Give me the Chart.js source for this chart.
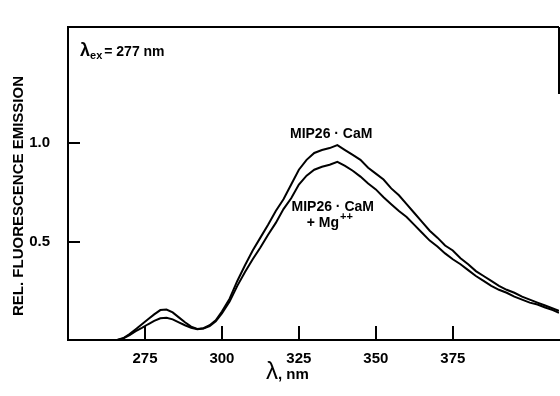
<!DOCTYPE html>
<html>
<head>
<meta charset="utf-8">
<script src="https://cdn.jsdelivr.net/npm/chart.js@4.4.1/dist/chart.umd.min.js"></script>
<style>
  html, body { margin: 0; padding: 0; background: #fff; }
  #wrap { width: 560px; height: 396px; }
</style>
</head>
<body>
<div id="wrap"><canvas id="spectrum"></canvas></div>
<script>
// emission wavelengths (nm)
const wavelengths = [266, 268, 270, 272, 274, 276, 278, 280, 282, 284, 286, 288, 290, 292, 294, 296, 298, 300,
    302.5, 305, 307.5, 310, 312.5, 315, 317.5, 320, 322.5, 325, 327.5, 330, 332.5, 335, 337.5, 340,
    342.5, 345, 347.5, 350, 352.5, 355, 357.5, 360, 362.5, 365, 367.5, 370, 372.5, 375, 377.5, 380,
    382.5, 385, 387.5, 390, 392.5, 395, 397.5, 400, 402.5, 405, 407.5, 409.5];

// MIP26 . CaM
const cam = [0, 0.01, 0.03, 0.055, 0.08, 0.105, 0.13, 0.152, 0.155, 0.14, 0.115, 0.09, 0.068, 0.056, 0.06, 0.075, 0.10, 0.145,
    0.21, 0.30, 0.38, 0.455, 0.52, 0.585, 0.655, 0.715, 0.79, 0.865, 0.915, 0.95, 0.965, 0.975, 0.99, 0.965,
    0.94, 0.915, 0.875, 0.845, 0.815, 0.77, 0.735, 0.69, 0.645, 0.60, 0.555, 0.52, 0.48, 0.455, 0.415, 0.385,
    0.35, 0.325, 0.30, 0.275, 0.255, 0.24, 0.22, 0.205, 0.19, 0.175, 0.16, 0.148];

// MIP26 . CaM + Mg++
const camMg = [0, 0.008, 0.025, 0.045, 0.062, 0.08, 0.097, 0.11, 0.113, 0.105, 0.09, 0.075, 0.062, 0.055, 0.058, 0.07, 0.095, 0.135,
    0.195, 0.275, 0.345, 0.41, 0.47, 0.535, 0.595, 0.665, 0.72, 0.79, 0.835, 0.865, 0.88, 0.89, 0.905, 0.885,
    0.86, 0.83, 0.795, 0.765, 0.725, 0.69, 0.655, 0.625, 0.585, 0.545, 0.505, 0.475, 0.44, 0.41, 0.385, 0.355,
    0.325, 0.30, 0.275, 0.255, 0.24, 0.22, 0.205, 0.19, 0.18, 0.165, 0.152, 0.138];

const xTicks = [275, 300, 325, 350, 375];
const yTicks = [0.5, 1.0];
const yTickLabels = ['0.5', '1.0'];

const FONT = "'Liberation Sans', Arial, sans-serif";

function toPoints(ys) {
    return wavelengths.map((x, i) => ({ x: x, y: ys[i] }));
}

// frame, inward ticks and text labels
const decorations = {
    id: 'decorations',
    afterDraw(chart) {
        const ctx = chart.ctx;
        const area = chart.chartArea;
        const xs = chart.scales.x;
        const ys = chart.scales.y;

        ctx.save();
        ctx.strokeStyle = '#000';
        ctx.lineWidth = 2;
        ctx.beginPath();
        ctx.moveTo(area.left, area.top);
        ctx.lineTo(area.right, area.top);
        ctx.moveTo(area.right, area.top);
        ctx.lineTo(area.right, ys.getPixelForValue(1.25));
        xTicks.forEach(t => {
            const px = Math.round(xs.getPixelForValue(t));
            ctx.moveTo(px, area.bottom);
            ctx.lineTo(px, area.bottom - 14);
        });
        yTicks.forEach(t => {
            const py = Math.round(ys.getPixelForValue(t));
            ctx.moveTo(area.left, py);
            ctx.lineTo(area.left + 12, py);
        });
        ctx.stroke();

        ctx.fillStyle = '#000';
        ctx.textBaseline = 'alphabetic';

        // excitation wavelength
        let x = area.left + 12;
        const base = area.top + 29;
        ctx.font = 'bold 18px ' + FONT;
        ctx.fillText('λ', x, base);
        x += ctx.measureText('λ').width;
        ctx.font = 'bold 11px ' + FONT;
        ctx.fillText('ex', x, base + 3);
        x += ctx.measureText('ex').width + 2;
        ctx.font = 'bold 14px ' + FONT;
        ctx.fillText('= 277 nm', x, base);

        // curve labels
        ctx.textAlign = 'center';
        ctx.font = 'bold 14px ' + FONT;
        ctx.fillText('MIP26 · CaM', xs.getPixelForValue(335.5), ys.getPixelForValue(1.0) - 5);
        const lx = xs.getPixelForValue(336);
        const ly = ys.getPixelForValue(0.655);
        ctx.fillText('MIP26 · CaM', lx, ly);
        ctx.textAlign = 'left';
        ctx.fillText('+ Mg', lx - 26, ly + 16);
        const mgw = ctx.measureText('+ Mg').width;
        ctx.font = 'bold 11px ' + FONT;
        ctx.fillText('++', lx - 26 + mgw + 1, ly + 9);

        // axis titles
        ctx.font = 'bold 15px ' + FONT;
        ctx.textAlign = 'center';
        ctx.textBaseline = 'middle';
        ctx.translate(19, 196);
        ctx.rotate(-Math.PI / 2);
        ctx.fillText('REL. FLUORESCENCE EMISSION', 0, 0);
        ctx.setTransform(1, 0, 0, 1, 0, 0);

        ctx.textAlign = 'left';
        ctx.textBaseline = 'alphabetic';
        ctx.font = '24px ' + FONT;
        ctx.fillText('λ', 266, 379);
        const lw = ctx.measureText('λ').width;
        ctx.font = 'bold 15px ' + FONT;
        ctx.fillText(', nm', 266 + lw, 379);
        ctx.restore();
    }
};

new Chart(document.getElementById('spectrum'), {
    type: 'line',
    data: {
        datasets: [
            {
                label: 'MIP26 · CaM',
                data: toPoints(cam),
                borderColor: '#000',
                borderWidth: 2,
                pointRadius: 0,
                tension: 0,
                fill: false
            },
            {
                label: 'MIP26 · CaM + Mg++',
                data: toPoints(camMg),
                borderColor: '#000',
                borderWidth: 2,
                pointRadius: 0,
                tension: 0,
                fill: false
            }
        ]
    },
    options: {
        responsive: true,
        maintainAspectRatio: false,
        animation: false,
        layout: { padding: { top: 13, right: 1, left: 0, bottom: 0 } },
        plugins: {
            legend: { display: false },
            tooltip: { enabled: false }
        },
        scales: {
            x: {
                type: 'linear',
                min: 250,
                max: 409.5,
                afterBuildTicks: scale => { scale.ticks = xTicks.map(v => ({ value: v })); },
                afterFit: scale => { scale.height = 56; },
                grid: { display: false, drawTicks: false },
                border: { display: true, color: '#000', width: 2 },
                ticks: {
                    color: '#000',
                    padding: 10,
                    maxRotation: 0,
                    font: { family: FONT, size: 15, weight: 'bold' },
                    callback: v => String(v)
                }
            },
            y: {
                min: 0,
                max: 1.59,
                afterBuildTicks: scale => { scale.ticks = yTicks.map(v => ({ value: v })); },
                afterFit: scale => { scale.width = 68; },
                grid: { display: false, drawTicks: false },
                border: { display: true, color: '#000', width: 2 },
                ticks: {
                    color: '#000',
                    padding: 18,
                    font: { family: FONT, size: 15, weight: 'bold' },
                    callback: v => yTickLabels[yTicks.indexOf(v)]
                }
            }
        }
    },
    plugins: [decorations]
});
</script>
</body>
</html>
